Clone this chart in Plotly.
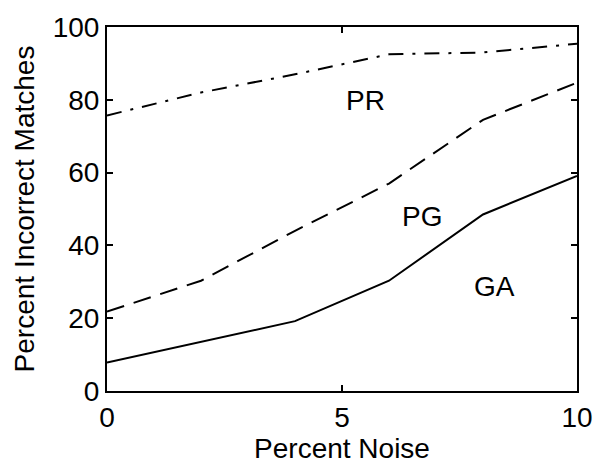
import plotly.graph_objects as go

noise = [0, 2, 4, 6, 8, 10]
ga = [7.8, 13.5, 19.2, 30.3, 48.5, 59.1]
pg = [21.8, 30.3, 44, 57, 74.5, 84.7]
pr = [75.7, 82, 87, 92.5, 93, 95.4]

label_text = ["PR", "PG", "GA"]
label_x = [5.5, 6.7, 8.25]
label_y = [79.7, 48, 28.6]

FONT = "Liberation Sans, Arial, Helvetica, sans-serif"
FS = 28

fig = go.Figure()
fig.add_trace(go.Scatter(x=noise, y=ga, mode="lines", name="GA",
                         line=dict(color="black", width=2, dash="solid")))
fig.add_trace(go.Scatter(x=noise, y=pg, mode="lines", name="PG",
                         line=dict(color="black", width=2, dash="18px,10px")))
fig.add_trace(go.Scatter(x=noise, y=pr, mode="lines", name="PR",
                         line=dict(color="black", width=2, dash="15px,9px,3px,9px")))

for t, x, y in zip(label_text, label_x, label_y):
    fig.add_annotation(x=x, y=y, text=t, showarrow=False,
                       font=dict(family=FONT, size=FS, color="black"))

axis_common = dict(showline=True, linecolor="black", linewidth=2, mirror="ticks",
                   ticks="inside", ticklen=6, tickwidth=1.5, tickcolor="black",
                   showgrid=False, zeroline=False,
                   tickfont=dict(family=FONT, size=FS, color="black"))

fig.update_xaxes(range=[0, 10], tickvals=[0, 5, 10],
                 title=dict(text="Percent Noise", font=dict(family=FONT, size=FS, color="black"),
                            standoff=4),
                 **axis_common)
fig.update_yaxes(range=[0, 100], tickvals=[0, 20, 40, 60, 80, 100],
                 title=dict(text="Percent Incorrect Matches", font=dict(family=FONT, size=FS, color="black"),
                            standoff=10),
                 **axis_common)

fig.update_layout(width=605, height=468, showlegend=False,
                  plot_bgcolor="white", paper_bgcolor="white",
                  margin=dict(l=107, r=27, t=21, b=73))

fig.write_html("out.html")
